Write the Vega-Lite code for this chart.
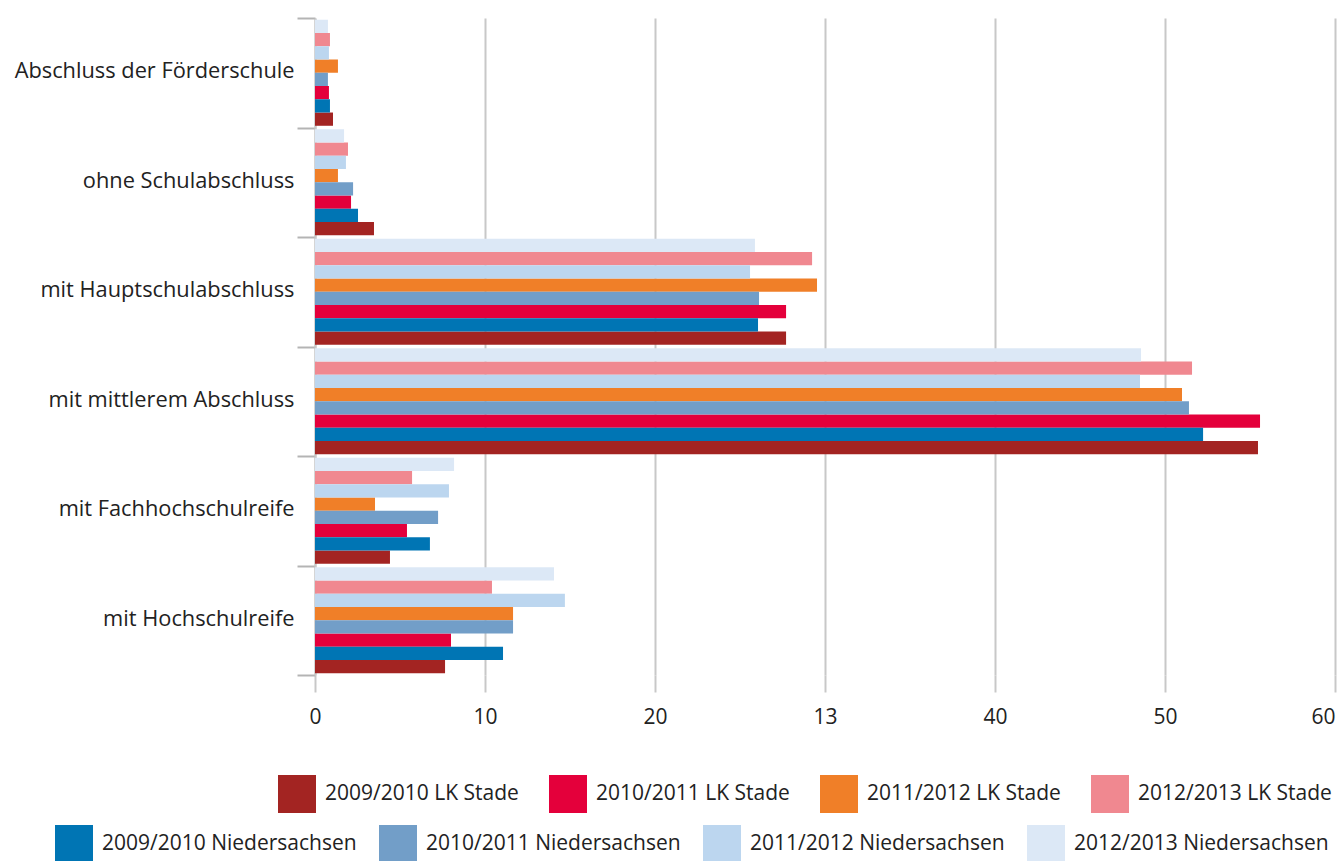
{
  "$schema": "https://vega.github.io/schema/vega-lite/v6.json",
  "width": 1020,
  "height": 657,
  "autosize": {"type": "none"},
  "padding": {"left": 315, "top": 18, "right": 2, "bottom": 186},
  "background": "white",
  "config": {"view": {"stroke": null}, "font": "Open Sans"},
  "data": {"values": [
    {"c": "Abschluss der Förderschule", "s": "2009/2010 LK Stade", "g": "LK", "v": 1.06},
    {"c": "Abschluss der Förderschule", "s": "2009/2010 Niedersachsen", "g": "NI", "v": 0.88},
    {"c": "Abschluss der Förderschule", "s": "2010/2011 LK Stade", "g": "LK", "v": 0.82},
    {"c": "Abschluss der Förderschule", "s": "2010/2011 Niedersachsen", "g": "NI", "v": 0.76},
    {"c": "Abschluss der Förderschule", "s": "2011/2012 LK Stade", "g": "LK", "v": 1.35},
    {"c": "Abschluss der Förderschule", "s": "2011/2012 Niedersachsen", "g": "NI", "v": 0.82},
    {"c": "Abschluss der Förderschule", "s": "2012/2013 LK Stade", "g": "LK", "v": 0.88},
    {"c": "Abschluss der Förderschule", "s": "2012/2013 Niedersachsen", "g": "NI", "v": 0.76},
    {"c": "ohne Schulabschluss", "s": "2009/2010 LK Stade", "g": "LK", "v": 3.47},
    {"c": "ohne Schulabschluss", "s": "2009/2010 Niedersachsen", "g": "NI", "v": 2.53},
    {"c": "ohne Schulabschluss", "s": "2010/2011 LK Stade", "g": "LK", "v": 2.12},
    {"c": "ohne Schulabschluss", "s": "2010/2011 Niedersachsen", "g": "NI", "v": 2.24},
    {"c": "ohne Schulabschluss", "s": "2011/2012 LK Stade", "g": "LK", "v": 1.35},
    {"c": "ohne Schulabschluss", "s": "2011/2012 Niedersachsen", "g": "NI", "v": 1.82},
    {"c": "ohne Schulabschluss", "s": "2012/2013 LK Stade", "g": "LK", "v": 1.94},
    {"c": "ohne Schulabschluss", "s": "2012/2013 Niedersachsen", "g": "NI", "v": 1.71},
    {"c": "mit Hauptschulabschluss", "s": "2009/2010 LK Stade", "g": "LK", "v": 27.71},
    {"c": "mit Hauptschulabschluss", "s": "2009/2010 Niedersachsen", "g": "NI", "v": 26.06},
    {"c": "mit Hauptschulabschluss", "s": "2010/2011 LK Stade", "g": "LK", "v": 27.71},
    {"c": "mit Hauptschulabschluss", "s": "2010/2011 Niedersachsen", "g": "NI", "v": 26.12},
    {"c": "mit Hauptschulabschluss", "s": "2011/2012 LK Stade", "g": "LK", "v": 29.53},
    {"c": "mit Hauptschulabschluss", "s": "2011/2012 Niedersachsen", "g": "NI", "v": 25.59},
    {"c": "mit Hauptschulabschluss", "s": "2012/2013 LK Stade", "g": "LK", "v": 29.24},
    {"c": "mit Hauptschulabschluss", "s": "2012/2013 Niedersachsen", "g": "NI", "v": 25.88},
    {"c": "mit mittlerem Abschluss", "s": "2009/2010 LK Stade", "g": "LK", "v": 55.47},
    {"c": "mit mittlerem Abschluss", "s": "2009/2010 Niedersachsen", "g": "NI", "v": 52.24},
    {"c": "mit mittlerem Abschluss", "s": "2010/2011 LK Stade", "g": "LK", "v": 55.59},
    {"c": "mit mittlerem Abschluss", "s": "2010/2011 Niedersachsen", "g": "NI", "v": 51.41},
    {"c": "mit mittlerem Abschluss", "s": "2011/2012 LK Stade", "g": "LK", "v": 51.0},
    {"c": "mit mittlerem Abschluss", "s": "2011/2012 Niedersachsen", "g": "NI", "v": 48.53},
    {"c": "mit mittlerem Abschluss", "s": "2012/2013 LK Stade", "g": "LK", "v": 51.59},
    {"c": "mit mittlerem Abschluss", "s": "2012/2013 Niedersachsen", "g": "NI", "v": 48.59},
    {"c": "mit Fachhochschulreife", "s": "2009/2010 LK Stade", "g": "LK", "v": 4.41},
    {"c": "mit Fachhochschulreife", "s": "2009/2010 Niedersachsen", "g": "NI", "v": 6.76},
    {"c": "mit Fachhochschulreife", "s": "2010/2011 LK Stade", "g": "LK", "v": 5.41},
    {"c": "mit Fachhochschulreife", "s": "2010/2011 Niedersachsen", "g": "NI", "v": 7.24},
    {"c": "mit Fachhochschulreife", "s": "2011/2012 LK Stade", "g": "LK", "v": 3.53},
    {"c": "mit Fachhochschulreife", "s": "2011/2012 Niedersachsen", "g": "NI", "v": 7.88},
    {"c": "mit Fachhochschulreife", "s": "2012/2013 LK Stade", "g": "LK", "v": 5.71},
    {"c": "mit Fachhochschulreife", "s": "2012/2013 Niedersachsen", "g": "NI", "v": 8.18},
    {"c": "mit Hochschulreife", "s": "2009/2010 LK Stade", "g": "LK", "v": 7.65},
    {"c": "mit Hochschulreife", "s": "2009/2010 Niedersachsen", "g": "NI", "v": 11.06},
    {"c": "mit Hochschulreife", "s": "2010/2011 LK Stade", "g": "LK", "v": 8.0},
    {"c": "mit Hochschulreife", "s": "2010/2011 Niedersachsen", "g": "NI", "v": 11.65},
    {"c": "mit Hochschulreife", "s": "2011/2012 LK Stade", "g": "LK", "v": 11.65},
    {"c": "mit Hochschulreife", "s": "2011/2012 Niedersachsen", "g": "NI", "v": 14.7},
    {"c": "mit Hochschulreife", "s": "2012/2013 LK Stade", "g": "LK", "v": 10.41},
    {"c": "mit Hochschulreife", "s": "2012/2013 Niedersachsen", "g": "NI", "v": 14.06}
  ]},
  "encoding": {
    "y": {
      "field": "c", "type": "nominal", "title": null,
      "sort": ["Abschluss der Förderschule", "ohne Schulabschluss", "mit Hauptschulabschluss", "mit mittlerem Abschluss", "mit Fachhochschulreife", "mit Hochschulreife"],
      "scale": {"paddingInner": 0, "paddingOuter": 0},
      "axis": {
        "domain": true, "domainColor": "#c8c8c8", "domainWidth": 2,
        "ticks": true, "tickBand": "extent", "tickSize": 18, "tickColor": "#b4b4b4", "tickWidth": 2,
        "labelFontSize": 21.8, "labelColor": "#222222", "labelPadding": 3, "labelFont": "Open Sans",
        "labelLimit": 400, "grid": false, "labelBaseline": "middle", "labelOffset": -2
      }
    },
    "yOffset": {
      "field": "s", "type": "nominal",
      "scale": {
        "domain": ["2012/2013 Niedersachsen", "2012/2013 LK Stade", "2011/2012 Niedersachsen", "2011/2012 LK Stade", "2010/2011 Niedersachsen", "2010/2011 LK Stade", "2009/2010 Niedersachsen", "2009/2010 LK Stade"],
        "paddingInner": 0, "paddingOuter": 0.13
      }
    },
    "x": {
      "field": "v", "type": "quantitative", "title": null,
      "scale": {"domain": [0, 60], "nice": false},
      "axis": {
        "values": [0, 10, 20, 30, 40, 50, 60],
        "labelExpr": "datum.value == 30 ? '13' : datum.label",
        "labelAlign": {"expr": "datum.value == 60 ? 'right' : 'center'"},
        "domain": false, "grid": true, "gridColor": "#c8c8c8", "gridWidth": 2,
        "ticks": true, "tickSize": 17, "tickColor": "#c8c8c8", "tickWidth": 2,
        "labelFontSize": 21, "labelColor": "#222222", "labelPadding": 14, "labelFont": "Open Sans",
        "labelFlush": false
      }
    }
  },
  "layer": [
    {
      "transform": [{"filter": "datum.g == 'LK'"}],
      "mark": {"type": "bar"},
      "encoding": {
        "color": {
          "field": "s", "type": "nominal",
          "scale": {
            "domain": ["2009/2010 LK Stade", "2010/2011 LK Stade", "2011/2012 LK Stade", "2012/2013 LK Stade"],
            "range": ["#a32422", "#e4003b", "#f07f28", "#f08890"]
          },
          "legend": {
            "orient": "none", "legendX": -37, "legendY": 757, "direction": "horizontal",
            "title": null, "symbolType": "square", "symbolSize": 1444, "symbolStrokeWidth": 0,
            "labelFontSize": 21, "labelColor": "#222222", "labelFont": "Open Sans",
            "labelOffset": 9, "columnPadding": 30, "labelLimit": 400
          }
        }
      }
    },
    {
      "transform": [{"filter": "datum.g == 'NI'"}],
      "mark": {"type": "bar"},
      "encoding": {
        "fill": {
          "field": "s", "type": "nominal",
          "scale": {
            "domain": ["2009/2010 Niedersachsen", "2010/2011 Niedersachsen", "2011/2012 Niedersachsen", "2012/2013 Niedersachsen"],
            "range": ["#0075b4", "#729ec8", "#bcd6ef", "#dce8f6"]
          },
          "legend": {
            "orient": "none", "legendX": -260, "legendY": 807, "direction": "horizontal",
            "title": null, "symbolType": "square", "symbolSize": 1444, "symbolStrokeWidth": 0,
            "labelFontSize": 21, "labelColor": "#222222", "labelFont": "Open Sans",
            "labelOffset": 9, "columnPadding": 22, "labelLimit": 400
          }
        }
      }
    }
  ]
}
